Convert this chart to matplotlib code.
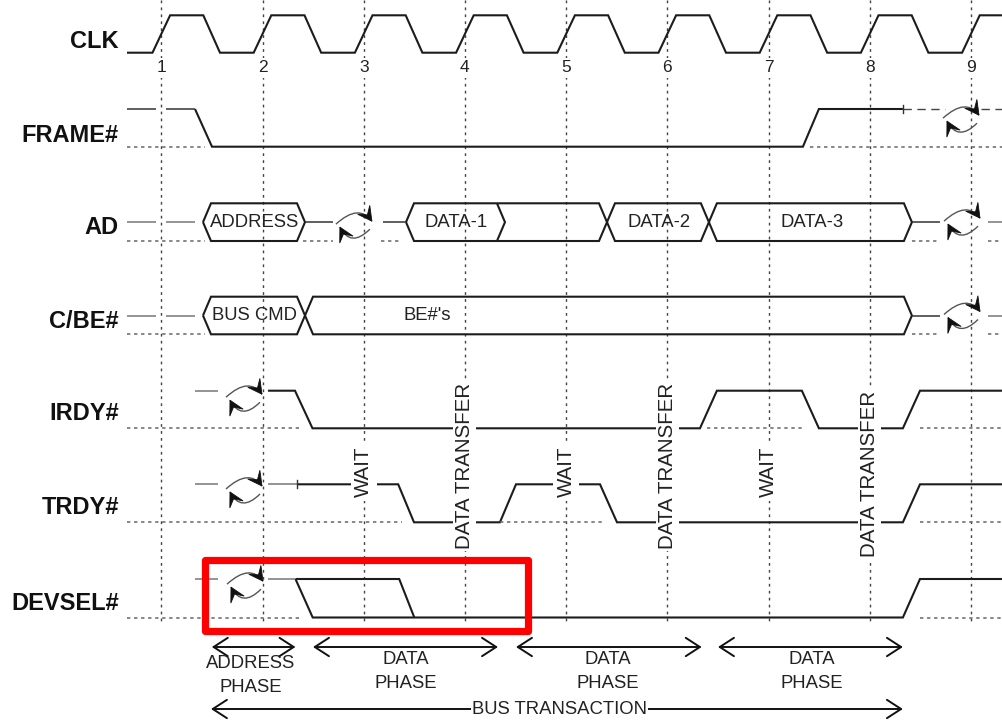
import matplotlib
matplotlib.use('Agg')
import numpy as np
import matplotlib.pyplot as plt
from matplotlib.patches import FancyArrowPatch, Rectangle, PathPatch, Polygon
from matplotlib.path import Path

plt.rcParams['font.family'] = ['Liberation Sans', 'DejaVu Sans']

# ---------------- data (times in clock units, levels 1 = high, 0 = low) ----------------
clock_numbers = [1, 2, 3, 4, 5, 6, 7, 8, 9]
row_names = ['CLK', 'FRAME#', 'AD', 'C/BE#', 'IRDY#', 'TRDY#', 'DEVSEL#']

T_START, T_END = 0.661, 9.307

frame_drive = [(1.333, 1), (1.501, 0), (7.340, 0), (7.498, 1), (8.328, 1)]
frame_float = [(0.661, 0.948), (1.046, 1.333)]
frame_tristate = [(8.328, 8.74), (9.10, 9.307)]
frame_dotted = [(0.661, 1.43), (7.41, 9.307)]

ad_segments = [(1.412, 2.420), (3.418, 5.404), (5.404, 6.411), (6.411, 8.417)]
ad_labels = ['ADDRESS', 'DATA-1', 'DATA-2', 'DATA-3']
ad_label_t = [1.925, 3.912, 5.915, 7.427]
ad_chevrons = [4.317]
ad_float = [(0.661, 0.948), (1.046, 1.333), (9.169, 9.307)]
ad_mid = [(2.420, 2.697), (3.193, 3.418), (8.417, 8.694)]
ad_dotted = [(0.661, 1.432), (2.40, 2.697), (3.173, 3.379), (8.417, 8.694), (9.169, 9.307)]

cbe_segments = [(1.412, 2.420), (2.420, 8.417)]
cbe_labels = ['BUS CMD', "BE#'s"]
cbe_label_t = [1.918, 3.627]
cbe_float = [(0.661, 0.948), (1.046, 1.333), (9.169, 9.307)]
cbe_mid = [(8.417, 8.694)]
cbe_dotted = [(0.661, 1.432), (8.417, 8.694), (9.169, 9.307)]

irdy_drive = [(2.054, 1), (2.321, 1), (2.494, 0), (6.323, 0), (6.490, 1), (7.330, 1),
              (7.498, 0), (8.328, 0), (8.497, 1), (9.307, 1)]
irdy_float = [(1.333, 1.560)]
irdy_dotted = [(0.661, 2.37), (6.39, 7.36), (8.497, 9.307)]

trdy_drive = [(2.341, 1), (3.341, 1), (3.497, 0), (4.346, 0), (4.505, 1), (5.335, 1),
              (5.503, 0), (8.328, 0), (8.497, 1), (9.307, 1)]
trdy_float = [(1.333, 1.560), (2.054, 2.341)]
trdy_dotted = [(0.661, 3.379), (4.346, 5.365), (8.497, 9.307)]

devsel_claim = [(2.326, 1), (3.351, 1), (3.500, 0)]
devsel_drive = [(2.326, 1), (2.496, 0), (8.328, 0), (8.497, 1), (9.307, 1)]
devsel_float = [(1.333, 1.560), (2.054, 2.326)]
devsel_dotted = [(0.661, 2.37), (8.497, 9.307)]

tick_marks = [('FRAME#', 8.328), ('TRDY#', 2.341)]

turnaround_rows = ['FRAME#', 'AD', 'AD', 'C/BE#', 'IRDY#', 'TRDY#', 'DEVSEL#']
turnaround_t = [8.912, 2.913, 8.922, 8.922, 1.827, 1.827, 1.837]
turnaround_frac = [0.73, 0.42, 0.5, 0.5, 0.8, 0.85, 0.84]

transfer_clocks = [4, 6, 8]
wait_clocks = [3, 5, 7]

phase_bounds = [(1.499, 2.326), (2.499, 4.327), (4.505, 6.340), (6.501, 8.328)]
phase_names = [('ADDRESS', 'PHASE'), ('DATA', 'PHASE'), ('DATA', 'PHASE'), ('DATA', 'PHASE')]
phase_label_t = [1.886, 3.418, 5.414, 7.427]
bus_transaction = (1.491, 8.328)

highlight_box = (1.427, 4.619)   # clock units

# ---------------- layout ----------------
X0_PX, PERIOD_PX = 161.3, 101.2
PX = 1.0 / PERIOD_PX
ROW_Y = {'CLK': (15.3, 52.7), 'FRAME#': (109, 146.7), 'AD': (203.3, 241),
         'C/BE#': (296.7, 334.3), 'IRDY#': (390.7, 428.3), 'TRDY#': (484.3, 522.3),
         'DEVSEL#': (579, 617.5)}
LABEL_Y = {'CLK': 42, 'FRAME#': 135, 'AD': 228, 'C/BE#': 322, 'IRDY#': 413,
           'TRDY#': 508, 'DEVSEL#': 603}
SLANT = 8 * PX
INK = '#1c1c1c'
SIG = dict(color=INK, lw=1.5, solid_joinstyle='miter', solid_capstyle='butt')
THIN = dict(color='#333333', lw=1.1, solid_capstyle='butt')
FLOAT = dict(color='#777777', lw=1.1, solid_capstyle='butt')
DOT = dict(color='#666666', lw=1.1, linestyle=(0, (2.2, 2.4)))
SMALL = 13.3

fig = plt.figure(figsize=(10.02, 7.21), dpi=100)
ax = fig.add_axes([0, 0, 1, 1])
ax.set_xlim(1 - X0_PX / PERIOD_PX, 1 + (1002 - X0_PX) / PERIOD_PX)
ax.set_ylim(721, 0)
ax.axis('off')


def lvl(row, v):
    hi, lo = ROW_Y[row]
    return lo + (hi - lo) * v


def wave(row, pts, style):
    ax.plot([p[0] for p in pts], [lvl(row, p[1]) for p in pts], **style)


def spans(row, segs, v, style):
    for a, b in segs:
        ax.plot([a, b], [lvl(row, v), lvl(row, v)], **style)


def bus(row, segs, labels, label_t):
    hi, lo = ROW_Y[row]
    mid = (hi + lo) / 2
    for (a, b), lab, lt in zip(segs, labels, label_t):
        xs = [a, a + SLANT, b - SLANT, b, b - SLANT, a + SLANT, a]
        ys = [mid, hi, hi, mid, lo, lo, mid]
        ax.plot(xs, ys, **SIG)
        ax.text(lt, mid, lab, ha='center', va='center', fontsize=SMALL, color='#222')


def head_shape(tip, d, L=14.0, W=7.5):
    d = np.array(d, float)
    d /= np.hypot(*d)
    n = np.array([-d[1], d[0]])
    tip = np.array(tip, float)
    base = tip - L * d
    return [tip, base + W * n, tip - 0.55 * L * d, base - W * n]


def turnaround(t, y):
    def P(p):
        return (t + p[0] * PX, y + p[1])
    arcs = [((-19, -1), (4, -22), (17, -4)),
            ((15, 4), (-4, 23), (-15, 2))]
    for s, c, e in arcs:
        path = Path([P(s), P(c), P(e)], [Path.MOVETO, Path.CURVE3, Path.CURVE3])
        ax.add_patch(PathPatch(path, fill=False, edgecolor='#555555', lw=1.0, zorder=5))
        d = np.array(e, float) - np.array(c, float)
        pts = [P(q) for q in head_shape(e, d)]
        ax.add_patch(Polygon(pts, closed=True, facecolor='#111', edgecolor='#111',
                             lw=0.6, zorder=6))


# vertical clock reference lines
for k in clock_numbers:
    ax.plot([k, k], [0, 624], color='#444444', lw=1.0, linestyle=(0, (2, 3)), zorder=0)
    ax.text(k, 68, str(k), ha='center', va='center', fontsize=12.5, color='#222',
            bbox=dict(facecolor='white', edgecolor='none', pad=1.5), zorder=3)

# row labels
for name in row_names:
    ax.text(1 + (119 - X0_PX) / PERIOD_PX, LABEL_Y[name], name, ha='right', va='center',
            fontsize=17, fontweight='bold', color='#111')

# CLK
EDGE, HIGH_END, FALL = 0.087, 0.415, 0.165
clk = [(T_START, 0)]
for k in clock_numbers:
    clk += [(k - EDGE, 0), (k + EDGE, 1)]
    if k != clock_numbers[-1]:
        clk += [(k + HIGH_END, 1), (k + HIGH_END + FALL, 0)]
    else:
        clk += [(T_END, 1)]
wave('CLK', clk, SIG)

# FRAME#
wave('FRAME#', frame_drive, SIG)
spans('FRAME#', frame_float, 1, THIN)
spans('FRAME#', frame_tristate, 1, dict(color='#444', lw=1.0, linestyle=(0, (6, 4))))
spans('FRAME#', frame_dotted, 0, DOT)

# AD
bus('AD', ad_segments, ad_labels, ad_label_t)
hi, lo = ROW_Y['AD']
for c in ad_chevrons:
    ax.plot([c, c + SLANT, c], [hi, (hi + lo) / 2, lo], **SIG)
spans('AD', ad_float, 0.5, FLOAT)
spans('AD', ad_mid, 0.5, THIN)
spans('AD', ad_dotted, 0, DOT)

# C/BE#
bus('C/BE#', cbe_segments, cbe_labels, cbe_label_t)
spans('C/BE#', cbe_float, 0.5, FLOAT)
spans('C/BE#', cbe_mid, 0.5, THIN)
spans('C/BE#', cbe_dotted, 0, DOT)

# IRDY#
wave('IRDY#', irdy_drive, SIG)
spans('IRDY#', irdy_float, 1, FLOAT)
spans('IRDY#', irdy_dotted, 0, DOT)

# TRDY#
wave('TRDY#', trdy_drive, SIG)
spans('TRDY#', trdy_float, 1, FLOAT)
spans('TRDY#', trdy_dotted, 0, DOT)

# DEVSEL#
wave('DEVSEL#', devsel_claim, SIG)
wave('DEVSEL#', devsel_drive, SIG)
spans('DEVSEL#', devsel_float, 1, FLOAT)
spans('DEVSEL#', devsel_dotted, 0, DOT)

for row, t in tick_marks:
    y = lvl(row, 1)
    ax.plot([t, t], [y - 4, y + 4], color='#333', lw=1.0)

for row, t, f in zip(turnaround_rows, turnaround_t, turnaround_frac):
    turnaround(t, lvl(row, f))

# annotations
for k in transfer_clocks:
    ax.text(k, 474 if k == 8 else 466, 'DATA TRANSFER', rotation=90, ha='center', va='center',
            fontsize=14.8, color='#222', bbox=dict(facecolor='white', edgecolor='none', pad=1.5),
            zorder=4)
for k in wait_clocks:
    ax.text(k, 472, 'WAIT', rotation=90, ha='center', va='center', fontsize=14.8, color='#222',
            bbox=dict(facecolor='white', edgecolor='none', pad=2.5), zorder=4)

# red highlight box
a, b = highlight_box
ax.add_patch(Rectangle((a, 559.5), b - a, 71, fill=False, edgecolor='#ff0000', lw=5.2,
                       joinstyle='round', zorder=7))


def dbl_arrow(a, b, y):
    ax.add_patch(FancyArrowPatch((a, y), (b, y), arrowstyle='<->,head_length=0.85,head_width=0.55',
                                 mutation_scale=12, color='#111', lw=1.4,
                                 shrinkA=0, shrinkB=0, zorder=3))


for (a, b), (l1, l2), lt in zip(phase_bounds, phase_names, phase_label_t):
    dbl_arrow(a, b, 647)
    off = 4 if l1 == 'ADDRESS' else 0
    ax.text(lt, 659 + off, l1, ha='center', va='center', fontsize=SMALL, color='#222', zorder=4)
    ax.text(lt, 684 + off, l2, ha='center', va='center', fontsize=SMALL, color='#222', zorder=4)

dbl_arrow(bus_transaction[0], bus_transaction[1], 709)
ax.text(4.937, 709, 'BUS TRANSACTION', ha='center', va='center', fontsize=SMALL, color='#222',
        bbox=dict(facecolor='white', edgecolor='none', pad=0.5), zorder=5)

fig.savefig('out.png', dpi=100)
